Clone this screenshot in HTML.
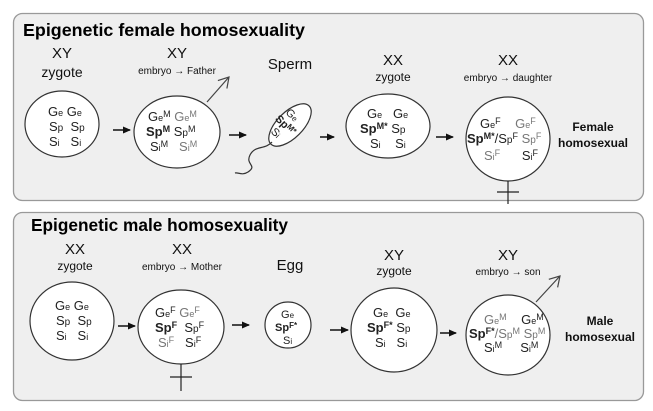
<!DOCTYPE html>
<html><head><meta charset="utf-8"><style>
html,body{margin:0;padding:0;background:#fff;}
svg{display:block;font-family:"Liberation Sans",sans-serif;}
.g{fill:#222}.l{fill:#777}
</style></head><body>
<svg width="653" height="411" viewBox="0 0 653 411" xmlns="http://www.w3.org/2000/svg">
<defs>
<marker id="ah" markerWidth="8" markerHeight="8" refX="7" refY="4" orient="auto" markerUnits="userSpaceOnUse"><path d="M0,0.5 L8,4 L0,7.5 Z" fill="#111"/></marker>
<marker id="oh" markerWidth="14" markerHeight="14" refX="12" refY="7" orient="auto" markerUnits="userSpaceOnUse"><path d="M2,1 L12,7 L2,13" fill="none" stroke="#444" stroke-width="1.2"/></marker>
</defs>
<rect x="13.5" y="13.5" width="630" height="187" rx="9" fill="#efefef" stroke="#999" stroke-width="1.3"/>
<rect x="13.5" y="212.5" width="630" height="188" rx="9" fill="#efefef" stroke="#999" stroke-width="1.3"/>
<text x="23" y="36" font-size="17.5" font-weight="bold" fill="#000" textLength="282" lengthAdjust="spacingAndGlyphs">Epigenetic female homosexuality</text>
<text x="31" y="231" font-size="17.5" font-weight="bold" fill="#000" textLength="257" lengthAdjust="spacingAndGlyphs">Epigenetic male homosexuality</text>

<g font-size="15" fill="#111" text-anchor="middle">
<text x="62" y="58">XY</text><text x="62" y="77" font-size="14">zygote</text>
<text x="177" y="58">XY</text><text x="177" y="74" font-size="10">embryo → Father</text>
<text x="290" y="69">Sperm</text>
<text x="393" y="65">XX</text><text x="393" y="81" font-size="12">zygote</text>
<text x="508" y="65">XX</text><text x="508" y="81" font-size="10">embryo → daughter</text>
<text x="75" y="254">XX</text><text x="75" y="270" font-size="12">zygote</text>
<text x="182" y="254">XX</text><text x="182" y="270" font-size="10">embryo → Mother</text>
<text x="290" y="270">Egg</text>
<text x="394" y="260">XY</text><text x="394" y="275" font-size="12">zygote</text>
<text x="508" y="260">XY</text><text x="508" y="275" font-size="10">embryo → son</text>
</g>
<g font-size="12" font-weight="bold" fill="#111" text-anchor="middle">
<text x="593" y="131">Female</text><text x="593" y="147">homosexual</text>
<text x="600" y="325">Male</text><text x="600" y="341">homosexual</text>
</g>

<g fill="#fff" stroke="#333" stroke-width="1.2">
<ellipse cx="62" cy="124" rx="37" ry="33"/>
<ellipse cx="177" cy="132" rx="43" ry="36"/>
<ellipse cx="290" cy="125" rx="13" ry="27" transform="rotate(45 290 125)"/>
<ellipse cx="388" cy="126" rx="42" ry="32"/>
<ellipse cx="508" cy="139" rx="42" ry="42"/>
<ellipse cx="72" cy="321" rx="42" ry="39"/>
<ellipse cx="181" cy="327" rx="43" ry="37"/>
<ellipse cx="288" cy="325" rx="23" ry="23"/>
<ellipse cx="394" cy="330" rx="43" ry="42"/>
<ellipse cx="508" cy="335" rx="42" ry="40"/>
</g>
<path d="M272,142 C265,150 255,145 250,155 C245,165 258,165 248,172 C242,176 238,172 235,173" fill="none" stroke="#333" stroke-width="1.2"/>

<g stroke="#111" stroke-width="1.5" marker-end="url(#ah)">
<line x1="113" y1="130" x2="130" y2="130"/>
<line x1="229" y1="135" x2="246" y2="135"/>
<line x1="320" y1="137" x2="334" y2="137"/>
<line x1="436" y1="137" x2="453" y2="137"/>
<line x1="118" y1="326" x2="135" y2="326"/>
<line x1="232" y1="325" x2="249" y2="325"/>
<line x1="330" y1="330" x2="348" y2="330"/>
<line x1="440" y1="333" x2="456" y2="333"/>
</g>
<g stroke="#444" stroke-width="1.2" marker-end="url(#oh)" fill="none">
<line x1="207" y1="102" x2="229" y2="77"/>
<line x1="536" y1="302" x2="560" y2="276"/>
</g>
<g stroke="#222" stroke-width="1.2">
<line x1="508" y1="181" x2="508" y2="204"/><line x1="497" y1="192" x2="519" y2="192"/>
<line x1="181" y1="364" x2="181" y2="391"/><line x1="170" y1="377" x2="192" y2="377"/>
</g>

<g font-size="13" class="g">
<text x="48" y="116">G<tspan font-size="9">e</tspan> G<tspan font-size="9">e</tspan></text>
<text x="49" y="131">S<tspan font-size="10">p</tspan>&#160; S<tspan font-size="10">p</tspan></text>
<text x="49" y="146">S<tspan font-size="9">i</tspan>&#160;&#160; S<tspan font-size="9">i</tspan></text>
<text x="148" y="121">G<tspan font-size="9">e</tspan><tspan font-size="9" dy="-4">M</tspan><tspan dy="4" class="l"> G</tspan><tspan font-size="9" class="l">e</tspan><tspan font-size="9" dy="-4" class="l">M</tspan></text>
<text x="146" y="136"><tspan font-weight="bold">Sp<tspan font-size="9" dy="-4">M</tspan></tspan><tspan dy="4"> S</tspan><tspan font-size="10">p</tspan><tspan font-size="9" dy="-4">M</tspan></text>
<text x="150" y="151">S<tspan font-size="9">i</tspan><tspan font-size="9" dy="-4">M</tspan><tspan dy="4" class="l">&#160;&#160; S</tspan><tspan font-size="9" class="l">i</tspan><tspan font-size="9" dy="-4" class="l">M</tspan></text>
<g transform="rotate(45 290 125)" font-size="11"><text x="278" y="120">G<tspan font-size="8">e</tspan></text><text x="275" y="132" font-weight="bold">Sp<tspan font-size="8" dy="-3">M*</tspan></text><text x="281" y="144">S<tspan font-size="8">i</tspan></text></g>
<text x="367" y="118">G<tspan font-size="9">e</tspan>&#160;&#160; G<tspan font-size="9">e</tspan></text>
<text x="360" y="133"><tspan font-weight="bold">Sp<tspan font-size="9" dy="-4">M*</tspan></tspan><tspan dy="4"> S</tspan><tspan font-size="10">p</tspan></text>
<text x="370" y="148">S<tspan font-size="9">i</tspan>&#160;&#160;&#160; S<tspan font-size="9">i</tspan></text>
<text x="480" y="128">G<tspan font-size="9">e</tspan><tspan font-size="9" dy="-4">F</tspan><tspan dy="4" class="l">&#160;&#160;&#160; G</tspan><tspan font-size="9" class="l">e</tspan><tspan font-size="9" dy="-4" class="l">F</tspan></text>
<text x="467" y="143"><tspan font-weight="bold">Sp<tspan font-size="9" dy="-4">M*</tspan></tspan><tspan dy="4">/S</tspan><tspan font-size="10">p</tspan><tspan font-size="9" dy="-4">F</tspan><tspan dy="4" class="l"> S</tspan><tspan font-size="10" class="l">p</tspan><tspan font-size="9" dy="-4" class="l">F</tspan></text>
<text x="484" y="160"><tspan class="l">S</tspan><tspan font-size="9" class="l">i</tspan><tspan font-size="9" dy="-4" class="l">F</tspan><tspan dy="4">&#160;&#160;&#160;&#160;&#160; S</tspan><tspan font-size="9">i</tspan><tspan font-size="9" dy="-4">F</tspan></text>
<text x="55" y="310">G<tspan font-size="9">e</tspan> G<tspan font-size="9">e</tspan></text>
<text x="56" y="325">S<tspan font-size="10">p</tspan>&#160; S<tspan font-size="10">p</tspan></text>
<text x="56" y="340">S<tspan font-size="9">i</tspan>&#160;&#160; S<tspan font-size="9">i</tspan></text>
<text x="155" y="317">G<tspan font-size="9">e</tspan><tspan font-size="9" dy="-4">F</tspan><tspan dy="4" class="l"> G</tspan><tspan font-size="9" class="l">e</tspan><tspan font-size="9" dy="-4" class="l">F</tspan></text>
<text x="155" y="332"><tspan font-weight="bold">Sp<tspan font-size="9" dy="-4">F</tspan></tspan><tspan dy="4">&#160; S</tspan><tspan font-size="10">p</tspan><tspan font-size="9" dy="-4">F</tspan></text>
<text x="158" y="347"><tspan class="l">S</tspan><tspan font-size="9" class="l">i</tspan><tspan font-size="9" dy="-4" class="l">F</tspan><tspan dy="4">&#160;&#160; S</tspan><tspan font-size="9">i</tspan><tspan font-size="9" dy="-4">F</tspan></text>
<text x="281" y="318" font-size="11">G<tspan font-size="8">e</tspan></text>
<text x="275" y="331" font-size="11" font-weight="bold">Sp<tspan font-size="8" dy="-3">F*</tspan></text>
<text x="283" y="344" font-size="11">S<tspan font-size="8">i</tspan></text>
<text x="373" y="317">G<tspan font-size="9">e</tspan>&#160; G<tspan font-size="9">e</tspan></text>
<text x="367" y="332"><tspan font-weight="bold">Sp<tspan font-size="9" dy="-4">F*</tspan></tspan><tspan dy="4"> S</tspan><tspan font-size="10">p</tspan></text>
<text x="375" y="347">S<tspan font-size="9">i</tspan>&#160;&#160; S<tspan font-size="9">i</tspan></text>
<text x="484" y="324"><tspan class="l">G</tspan><tspan font-size="9" class="l">e</tspan><tspan font-size="9" dy="-4" class="l">M</tspan><tspan dy="4">&#160;&#160;&#160; G</tspan><tspan font-size="9">e</tspan><tspan font-size="9" dy="-4">M</tspan></text>
<text x="469" y="338"><tspan font-weight="bold">Sp<tspan font-size="9" dy="-4">F*</tspan></tspan><tspan dy="4" class="l">/S</tspan><tspan font-size="10" class="l">p</tspan><tspan font-size="9" dy="-4" class="l">M</tspan><tspan dy="4" class="l"> S</tspan><tspan font-size="10" class="l">p</tspan><tspan font-size="9" dy="-4" class="l">M</tspan></text>
<text x="484" y="352">S<tspan font-size="9">i</tspan><tspan font-size="9" dy="-4">M</tspan><tspan dy="4">&#160;&#160;&#160;&#160; S</tspan><tspan font-size="9">i</tspan><tspan font-size="9" dy="-4">M</tspan></text>
</g>
</svg>
</body></html>
